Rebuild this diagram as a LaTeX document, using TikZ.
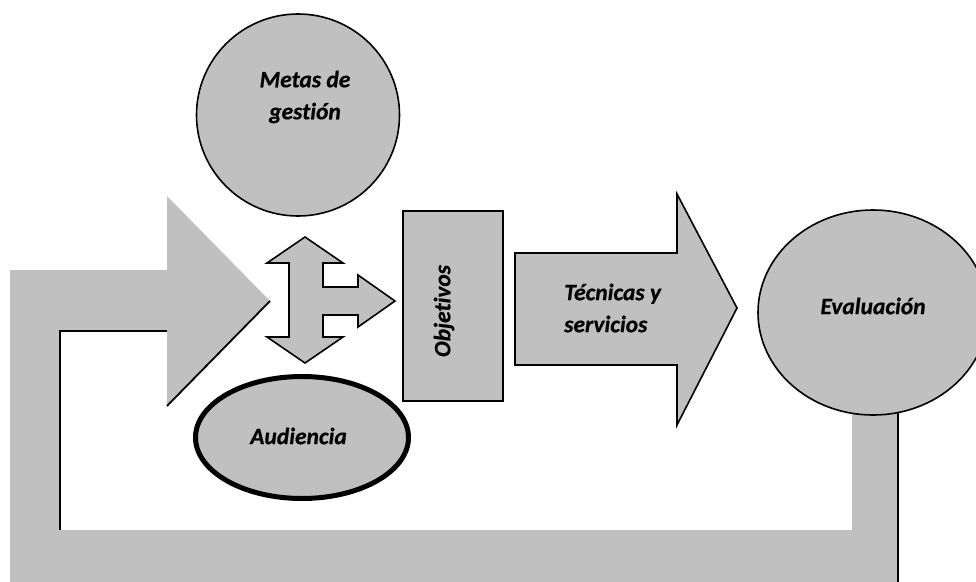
\documentclass[tikz,border=0pt]{standalone}
\usepackage{fontspec}
\setmainfont{Carlito}[Ligatures=NoCommon, BoldItalicFeatures={FakeBold=0.6}]
\usetikzlibrary{shapes.geometric}
\definecolor{panel}{RGB}{192,192,192}
\tikzset{
  x=1pt, y=-1pt,
  label text/.style={font=\fontsize{23.5}{32}\selectfont\bfseries\itshape, inner sep=0pt},
  blob/.style={draw=black, fill=panel, line width=1.6pt, ellipse, inner sep=0pt},
  arrowshape/.style={draw=black, fill=panel, line width=1.6pt, line join=miter},
  shade line/.style={draw=black, line width=1.8pt}
}
\begin{document}
\begin{tikzpicture}
\clip (0,0) rectangle (976,581);
\fill[white] (0,0) rectangle (976,581);

% feedback loop: wide grey band ending in a broad arrow head
\fill[panel] (10,270) -- (167,270) -- (167,196) -- (270,301) -- (167,406)
  -- (167,331) -- (60,331) -- (60,530) -- (852,530) -- (852,380)
  -- (898,380) -- (898,590) -- (10,590) -- cycle;
\coordinate (tipL) at (270,301);
\coordinate (headB) at (167,406);
\coordinate (innA) at (167,331);
\coordinate (innB) at (60,331);
\coordinate (innC) at (60,530);
\coordinate (barT) at (898,410);
\coordinate (barB) at (898,590);
\draw[shade line] (tipL) -- (headB);
\draw[shade line] (innA) -- (innB) -- (innC);
\draw[shade line] (barT) -- (barB);

% goals
\node[blob, minimum width=203pt, minimum height=202pt] (metas) at (298,115) {};
\node[label text, align=center] (metastxt) at (305,97) {Metas de\\gestión};

% three-way arrow
\draw[arrowshape] (305,237) -- (343,263) -- (323,263) -- (323,287) -- (358,287)
  -- (358,275) -- (395,301) -- (358,327) -- (358,315) -- (323,315) -- (323,337)
  -- (343,337) -- (305,363) -- (267,337) -- (289,337) -- (289,263) -- (267,263) -- cycle;

% audience
\node[blob, line width=5pt, minimum width=213pt, minimum height=122pt] (aud) at (302,437.5) {};
\node[label text] (audtxt) at (298.5,436) {Audiencia};

% objectives
\node[draw=black, fill=panel, line width=2.5pt, minimum width=100pt, minimum height=190pt,
      inner sep=0pt] (obj) at (453,306) {};
\node[label text, rotate=90] (objtxt) at (444,311) {Objetivos};

% techniques arrow
\draw[arrowshape] (515,253) -- (677,253) -- (677,194) -- (737,308) -- (677,425)
  -- (677,365) -- (515,365) -- cycle;
\node[label text, align=left, anchor=west] (tectxt) at (564,308) {Técnicas y\\servicios};

% evaluation
\node[blob, minimum width=230pt, minimum height=205pt] (eval) at (873,312.5) {};
\node[label text] (evaltxt) at (873,306) {Evaluación};
\end{tikzpicture}
\end{document}
